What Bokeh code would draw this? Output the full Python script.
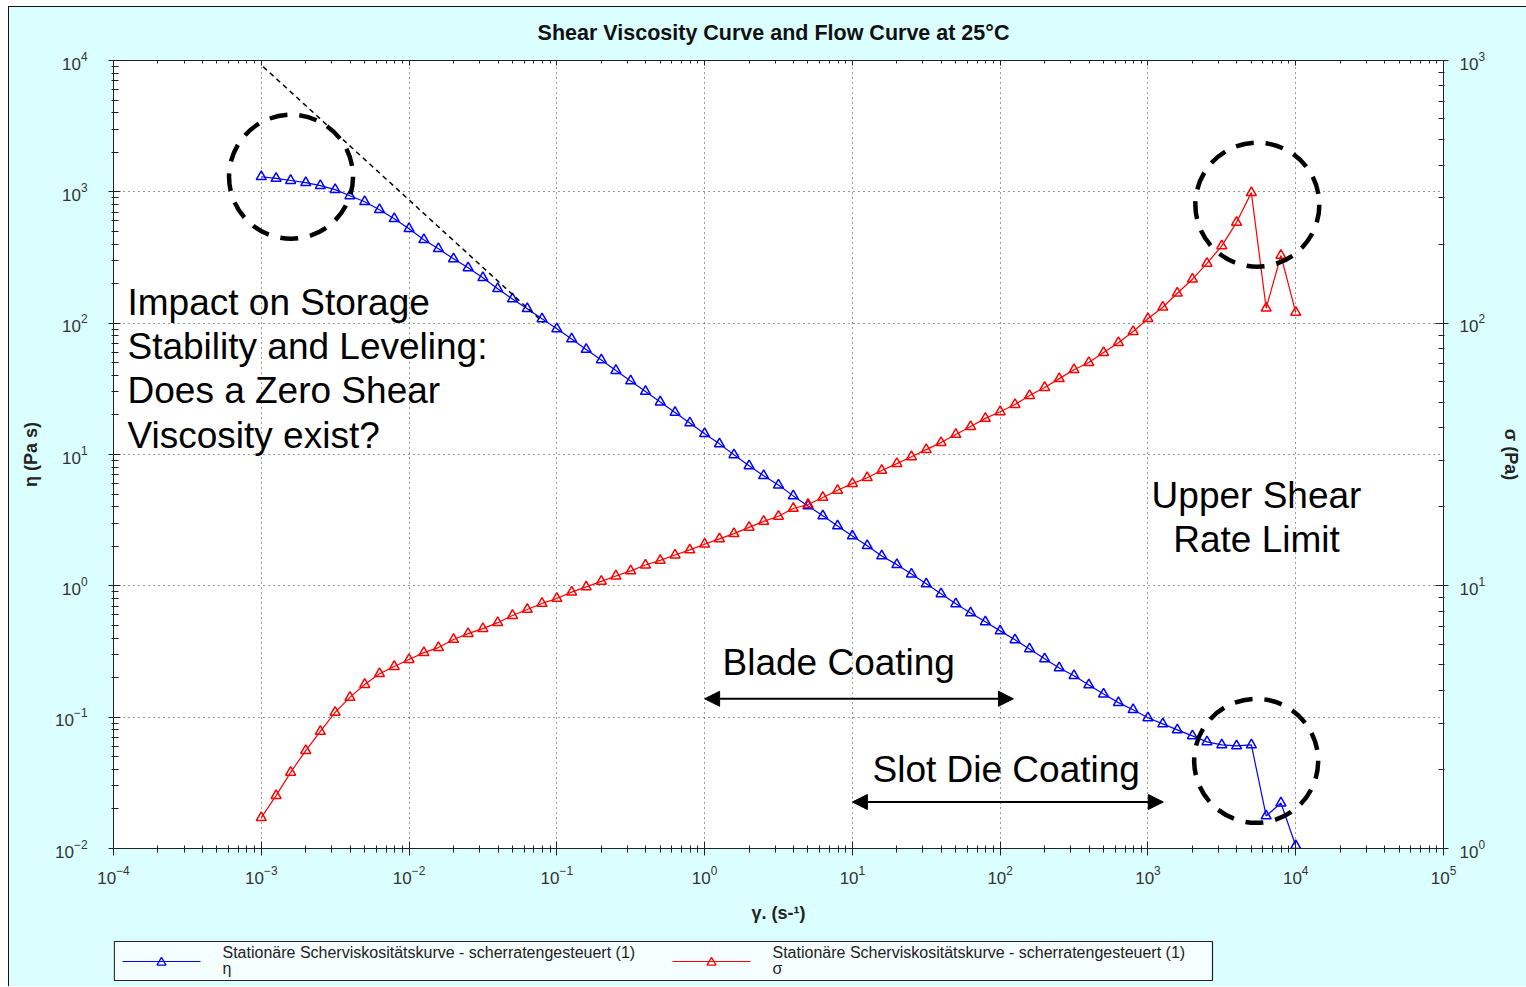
from bokeh.plotting import figure
from bokeh.layouts import column
from bokeh.models import (LogAxis, Range1d, LogScale, Label, Arrow, NormalHead, FixedTicker)
from bokeh.core.properties import value
from bokeh.embed import file_html
from bokeh.resources import INLINE

# ---------------- data ----------------
shear_rate = [0.001, 0.00126, 0.00158, 0.002, 0.00251, 0.00316, 0.00398, 0.00501, 0.00631, 0.00794,
              0.01, 0.0126, 0.0158, 0.02, 0.0251, 0.0316, 0.0398, 0.0501, 0.0631, 0.0794,
              0.1, 0.126, 0.158, 0.2, 0.251, 0.316, 0.398, 0.501, 0.631, 0.794,
              1, 1.26, 1.58, 2, 2.51, 3.16, 3.98, 5.01, 6.31, 7.94,
              10, 12.6, 15.8, 20, 25.1, 31.6, 39.8, 50.1, 63.1, 79.4,
              100, 126, 158, 200, 251, 316, 398, 501, 631, 794,
              1000, 1260, 1580, 2000, 2510, 3160, 3980, 5010, 6310, 7940,
              10000]

viscosity = [1303, 1265, 1220, 1175, 1115, 1040, 933, 841, 731, 624,
             524, 432, 369, 309, 264, 222, 183, 153, 129, 108,
             90.6, 75.9, 63.1, 52.5, 43.6, 36.3, 30.2, 25.1, 20.9, 17.4,
             14.4, 12.05, 9.95, 8.2, 6.9, 5.85, 4.84, 4.06, 3.41, 2.86,
             2.40, 2.02, 1.69, 1.45, 1.23, 1.035, 0.869, 0.730, 0.622, 0.532,
             0.454, 0.388, 0.331, 0.278, 0.237, 0.207, 0.176, 0.150, 0.129, 0.114,
             0.0989, 0.0889, 0.0800, 0.0721, 0.0649, 0.0615, 0.0604, 0.0615, 0.0177, 0.0222,
             0.0105]

stress = [1.31, 1.59, 1.95, 2.36, 2.79, 3.30, 3.76, 4.21, 4.63, 4.93,
          5.24, 5.57, 5.82, 6.25, 6.58, 6.87, 7.24, 7.71, 8.13, 8.57,
          8.95, 9.46, 9.91, 10.4, 10.9, 11.4, 12.0, 12.5, 13.1, 13.7,
          14.4, 15.1, 15.8, 16.7, 17.6, 18.4, 19.7, 20.4, 21.7, 23.1,
          24.5, 25.8, 27.5, 29.2, 31.0, 33.0, 35.1, 37.7, 40.4, 43.4,
          46.0, 49.0, 53.0, 56.9, 61.5, 66.5, 70.8, 77.3, 84.3, 92.9,
          104, 115, 130, 147, 169, 197, 242, 314, 114, 181,
          110]

x_ticks = [1e-4, 1e-3, 1e-2, 1e-1, 1e0, 1e1, 1e2, 1e3, 1e4, 1e5]
eta_ticks = [1e-2, 1e-1, 1e0, 1e1, 1e2, 1e3, 1e4]
sigma_ticks = [1e0, 1e1, 1e2, 1e3]

title_text = "Shear Viscosity Curve and Flow Curve at 25°C"
x_label = "γ. (s-¹)"
eta_label = "η (Pa s)"
sigma_label = "σ (Pa)"
legend_series = "Stationäre Scherviskositätskurve - scherratengesteuert (1)"
legend_names = ["η", "σ"]
legend_colors = ["blue", "red"]

# annotation geometry (data coordinates)
slope_line_x = [0.00103, 0.081]
slope_line_y = [8970, 101]
circle_x = [0.00159, 5500, 5400]
circle_y = [1303, 798, 0.0465]
blade_range = (1.0, 123.0, 0.138)
slot_range = (10.0, 1270.0, 0.0226)

FONT = "Liberation Sans"
BG = "#DBFFFF"
W = 1517
FRAME_L, FRAME_R = 113, 1443   # page x of the (column-aligned) plot frames


def minors(majors):
    return [m * t for t in majors[:-1] for m in range(2, 10)]


# ---------------- title strip (page y 7..46) ----------------
tf = figure(width=W, height=39, x_range=Range1d(FRAME_L, FRAME_R), y_range=Range1d(46, 7),
            x_axis_location=None, y_axis_location=None, min_border=0,
            output_backend="svg", toolbar_location=None,
            background_fill_color=BG, border_fill_color=BG, outline_line_color=None)
tf.grid.visible = False
tf.text(x=[773], y=[32], text=[title_text], text_font=value(FONT), text_font_size=value("21.5px"),
        text_font_style="bold", text_align="center", text_baseline="middle", text_color="#111")

# ---------------- main plot (page y 46..930) ----------------
p = figure(width=W, height=884, x_axis_type="log", y_axis_type="log",
           x_range=Range1d(1e-4, 1e5), y_range=Range1d(1e-2, 1e4),
           output_backend="svg", toolbar_location=None,
           min_border_left=104, min_border_right=W - 104 - 1330, min_border_top=14, min_border_bottom=82,
           background_fill_color="white", border_fill_color=BG)
p.outline_line_color = "#222"
p.extra_y_ranges = {"sigma": Range1d(1, 1000)}
p.extra_y_scales = {"sigma": LogScale()}


def style_axis(ax, tin, tout, mtin, mtout, standoff):
    ax.axis_line_color = "#222"
    ax.major_tick_line_color = "#222"
    ax.minor_tick_line_color = "#222"
    ax.major_tick_in = tin
    ax.major_tick_out = tout
    ax.minor_tick_in = mtin
    ax.minor_tick_out = mtout
    ax.major_label_text_font = FONT
    ax.major_label_text_font_size = "17px"
    ax.major_label_text_color = "#333"
    ax.major_label_standoff = standoff
    ax.axis_label_text_font = FONT
    ax.axis_label_text_font_style = "bold"
    ax.axis_label_text_font_size = "18px"
    ax.axis_label_text_color = "#222"


xa = p.below[0]
xa.ticker = FixedTicker(ticks=x_ticks, minor_ticks=minors(x_ticks))
xa.axis_label = x_label
style_axis(xa, 7, 7, 3, 4, 10)
xa.axis_label_standoff = 16

ya = p.left[0]
ya.ticker = FixedTicker(ticks=eta_ticks, minor_ticks=minors(eta_ticks))
ya.axis_label = eta_label
style_axis(ya, 7, 5, 5, 2, 21)
ya.axis_label_standoff = 11

ra = LogAxis(y_range_name="sigma", axis_label=sigma_label)
ra.ticker = FixedTicker(ticks=sigma_ticks, minor_ticks=minors(sigma_ticks))
style_axis(ra, 8, 5, 5, 1, 11)
ra.axis_label_standoff = 13
p.add_layout(ra, "right")

ta = LogAxis()
ta.ticker = FixedTicker(ticks=x_ticks, minor_ticks=minors(x_ticks))
style_axis(ta, 5, 0, 3, 0, 0)
ta.major_label_text_font_size = "1px"
ta.major_label_text_alpha = 0
p.add_layout(ta, "above")

p.xgrid.grid_line_color = "#333"
p.xgrid.grid_line_dash = "1 4"
p.xgrid.ticker = FixedTicker(ticks=x_ticks)
p.ygrid.grid_line_color = "#333"
p.ygrid.grid_line_dash = "1 4"
p.ygrid.ticker = FixedTicker(ticks=eta_ticks)

# series
p.line(shear_rate, viscosity, line_color="blue", line_width=1.2)
p.scatter(shear_rate, viscosity, marker="triangle", size=10, fill_color=None,
          line_color="blue", line_width=1.5)
p.line(shear_rate, stress, line_color="red", line_width=1.2, y_range_name="sigma")
p.scatter(shear_rate, stress, marker="triangle", size=10, fill_color=None,
          line_color="red", line_width=1.5, y_range_name="sigma")

# annotations
p.line(slope_line_x, slope_line_y, line_color="black", line_width=1.5, line_dash="5 4")
p.scatter(circle_x, circle_y, marker="circle", size=124,
          fill_color=None, line_color="black", line_width=4.5, line_dash="18 12")

for (x0, x1, yv) in (blade_range, slot_range):
    p.add_layout(Arrow(start=NormalHead(size=15, fill_color="black", line_color="black"),
                       end=NormalHead(size=15, fill_color="black", line_color="black"),
                       x_start=x0, y_start=yv, x_end=x1, y_end=yv,
                       line_color="black", line_width=2))


def label(x, y, text, size, align="left"):
    p.add_layout(Label(x=x, y=y, x_units="screen", y_units="screen", text=text,
                       text_font=FONT, text_font_size=size, text_align=align,
                       text_baseline="alphabetic", text_color="black"))


big = "37px"
for txt, yy in (("Impact on Storage", 546), ("Stability and Leveling:", 502),
                ("Does a Zero Shear", 458), ("Viscosity exist?", 413)):
    label(14, yy, txt, big)
label(1143, 353, "Upper Shear", big, align="center")
label(1143, 309, "Rate Limit", big, align="center")
label(609, 186, "Blade Coating", big)
label(759, 79, "Slot Die Coating", big)

# ---------------- legend strip (page y 930..986) ----------------
lf = figure(width=W, height=56, x_range=Range1d(FRAME_L, FRAME_R), y_range=Range1d(986, 930),
            x_axis_location=None, y_axis_location=None, min_border=0,
            output_backend="svg", toolbar_location=None,
            background_fill_color=BG, border_fill_color=BG, outline_line_color=None)
lf.grid.visible = False
lf.quad(left=[113.8], right=[1212], top=[941], bottom=[980],
        fill_color="#F5FFFF", line_color="#222", line_width=1.2)
entry_x = [122, 672]
for i, (name, col) in enumerate(zip(legend_names, legend_colors)):
    x0 = entry_x[i]
    lf.line([x0, x0 + 78], [961, 961], line_color=col, line_width=1.2)
    lf.scatter([x0 + 39], [962], marker="triangle", size=9, fill_color=None,
               line_color=col, line_width=1.3)
    lf.text(x=[x0 + 100, x0 + 100], y=[951.5, 968], text=[legend_series, name],
            text_font=value(FONT), text_font_size=value("16px"),
            text_align="left", text_baseline="middle", text_color="#222")

layout = column(tf, p, lf, spacing=0)
layout.styles = {"margin-left": "8px", "margin-top": "6px", "background-color": BG,
                 "border-left": "1px solid #111", "border-top": "1px solid #111"}

open("out.html", "w").write(file_html(layout, INLINE))
